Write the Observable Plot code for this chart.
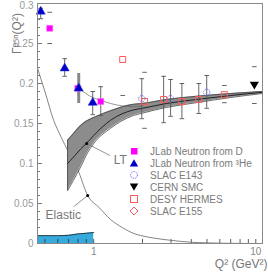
<!DOCTYPE html>
<html><head><meta charset="utf-8">
<script src="https://cdn.jsdelivr.net/npm/d3@7"></script>
<script src="https://cdn.jsdelivr.net/npm/@observablehq/plot@0.6"></script>
<style>
body{margin:0;background:#fff;font-family:"Liberation Sans",Arial,sans-serif;}
#wrap{position:relative;width:268px;height:273px;}
#legend{position:absolute;left:129px;top:145px;font-size:10px;color:#7a7a7a;}
.row{height:12px;display:flex;align-items:center;white-space:nowrap;}
.row svg{width:10px;height:10px;margin-right:11px;flex:none;}
</style></head><body><div id="wrap"></div>
<script>
// ---- data ----
const jlabD_q2 = [0.535, 0.797, 1.105];
const jlabD_val = [0.269, 0.194, 0.1775];
const jlabHe_q2 = [0.471, 0.662, 0.808, 0.986];
const jlabHe_val = [0.29, 0.219, 0.194, 0.176];
const e143_q2 = [1.98, 2.98, 4.98];
const e143_val = [0.181, 0.181, 0.189];
const hermes_q2 = [1.51, 2.06, 2.70, 3.5, 4.45, 6.4];
const hermes_val = [0.23, 0.1775, 0.18, 0.1775, 0.18, 0.186];
const smc_q2 = [9.8];
const smc_val = [0.199];

// visible error bars
const bar_q2 = [0.471, 0.662, 0.986, 1.105, 1.98, 2.70, 2.98, 3.5, 4.45, 4.98];
const bar_lo = [0.281, 0.209, 0.161, 0.16, 0.156, 0.151, 0.159, 0.156, 0.1625, 0.169];
const bar_hi = [0.294, 0.231, 0.19, 0.196, 0.206, 0.209, 0.205, 0.20, 0.2, 0.21];
// thick (systematic) bar
const thick_q2 = [0.808];
const thick_lo = [0.175];
const thick_hi = [0.2125];
// lone caps (bar lines not visible)
const cap_q2 = [0.535, 0.535, 1.51, 2.06, 2.06, 6.4, 6.4, 9.8, 9.8];
const cap_val = [0.289, 0.25, 0.185, 0.214, 0.144, 0.1975, 0.176, 0.221, 0.175];

// leading twist band
const band_q2 = [0.69, 0.75, 0.83, 0.92, 1.0, 1.27, 1.76, 2.0, 2.8, 4.3, 7, 11];
const band_top = [0.129, 0.1375, 0.1475, 0.154, 0.1575, 0.166, 0.174, 0.175, 0.18, 0.184, 0.1875, 0.19];
const band_bot = [0.066, 0.079, 0.0955, 0.114, 0.125, 0.144, 0.16, 0.163, 0.17, 0.176, 0.1825, 0.1875];
const band_mid = [0.1, 0.108, 0.118, 0.127, 0.135, 0.154, 0.167, 0.169, 0.175, 0.18, 0.185, 0.189];

// model line through JLab points
const model_q2 = [0.808, 0.986, 1.105, 1.27, 1.76, 2.0];
const model_val = [0.194, 0.1825, 0.179, 0.175, 0.171, 0.172];

// elastic contribution
const el_q2 = [0.45, 0.5, 0.566, 0.626, 0.7, 0.797, 0.918, 1.08, 1.27, 1.5, 1.77, 1.95, 2.4, 2.98, 3.97, 5, 6.3, 8, 11];
const el_val = [0.219, 0.19, 0.154, 0.134, 0.114, 0.0925, 0.06, 0.045, 0.03, 0.02, 0.0125, 0.01, 0.0065, 0.004, 0.0016, 0.0008, 0.0003, 0.0001, 0];

// cyan region
const cy_q2 = [0.45, 0.6, 0.7, 0.8, 0.9, 1.0];
const cy_val = [0.0098, 0.0098, 0.0102, 0.012, 0.0128, 0.0137];

// annotations
const ann_text = ["LT", "Elastic"];
const ann_q2 = [1.33, 0.505];
const ann_val = [0.104, 0.035];
const ptr = [{q1: 0.905, v1: 0.125, q2: 1.26, v2: 0.11}, {q1: 0.918, v1: 0.06, q2: 0.752, v2: 0.046}];

// ticks
const yTicks = [0, 0.05, 0.1, 0.15, 0.2, 0.25];
const yTopTick = [0.3];
const yMinor = d3.range(1, 30).map(i => i / 100);
const xTicks = [1, 10];
const xMinor = [0.5, 0.6, 0.7, 0.8, 0.9, 1, 2, 3, 4, 5, 6, 7, 8, 9, 10];

// ---- build ----
const zip = (xs, ys) => xs.map((x, i) => ({x, y: ys[i]}));
const band = band_q2.map((q, i) => ({x: q, lo: band_bot[i], hi: band_top[i], mid: band_mid[i]}));
const bars = bar_q2.map((q, i) => ({x: q, lo: bar_lo[i], hi: bar_hi[i]}));
const thick = thick_q2.map((q, i) => ({x: q, lo: thick_lo[i], hi: thick_hi[i]}));
const caps = bars.flatMap(b => [{x: b.x, y: b.lo}, {x: b.x, y: b.hi}]).concat(zip(cap_q2, cap_val));
const dash = {draw(ctx, size) { const r = Math.sqrt(size / Math.PI); ctx.moveTo(-r, 0); ctx.lineTo(r, 0); }};
const yMajorSet = new Set(yTicks.concat(yTopTick).map(d => d.toFixed(2)));

const plot = Plot.plot({
  width: 268, height: 273,
  marginLeft: 37, marginRight: 6, marginTop: 3, marginBottom: 30,
  style: {fontFamily: "Liberation Sans, Arial, sans-serif", background: "white"},
  x: {type: "log", domain: [0.45, 11]},
  y: {domain: [0, 0.3]},
  marks: [
    Plot.areaY(zip(cy_q2, cy_val), {x: "x", y: "y", fill: "#36aadc"}),
    Plot.lineY(zip(cy_q2, cy_val), {x: "x", y: "y", stroke: "#222", strokeWidth: 0.8}),
    Plot.ruleX(xMinor, {insetTop: 236, stroke: "#333", strokeWidth: 0.8}),
    Plot.ruleY(yMinor.filter(d => !yMajorSet.has(d.toFixed(2))), {insetRight: 222, stroke: "#555", strokeWidth: 0.8}),
    Plot.ruleY(yTicks, {insetRight: 220, stroke: "#555", strokeWidth: 0.8}),
    Plot.lineY(zip(el_q2, el_val), {x: "x", y: "y", stroke: "#666", strokeWidth: 0.8, curve: "monotone-x"}),
    Plot.areaY(band, {x: "x", y1: "lo", y2: "hi", fill: "#8c8c8c", curve: "monotone-x"}),
    Plot.lineY(band, {x: "x", y: "hi", stroke: "#444", strokeWidth: 0.8, curve: "monotone-x"}),
    Plot.lineY(band, {x: "x", y: "lo", stroke: "#444", strokeWidth: 0.8, curve: "monotone-x"}),
    Plot.lineY(band, {x: "x", y: "mid", stroke: "#222", strokeWidth: 1, curve: "monotone-x"}),
    Plot.ruleX(band.slice(0, 1), {x: "x", y1: "lo", y2: "hi", stroke: "#444", strokeWidth: 0.8}),
    Plot.lineY(zip(model_q2, model_val), {x: "x", y: "y", stroke: "#666", strokeWidth: 0.7, curve: "monotone-x"}),
    Plot.ruleX(thick, {x: "x", y1: "lo", y2: "hi", stroke: "#888", strokeWidth: 3}),
    Plot.ruleX(bars, {x: "x", y1: "lo", y2: "hi", stroke: "#555", strokeWidth: 0.9}),
    Plot.dot(caps, {x: "x", y: "y", symbol: dash, r: 2.3, stroke: "#555", strokeWidth: 0.9, fill: "none"}),
    Plot.dot(zip(e143_q2, e143_val), {x: "x", y: "y", symbol: "circle", r: 3.2, stroke: "#6a6aff", strokeWidth: 0.9, strokeDasharray: "1.5,1", fill: "none"}),
    Plot.dot(zip(hermes_q2, hermes_val), {x: "x", y: "y", symbol: "square", r: 3.4, stroke: "#ff5a5a", strokeWidth: 1, fill: "none"}),
    Plot.dot(zip(jlabD_q2, jlabD_val), {x: "x", y: "y", symbol: "square", r: 3.4, fill: "#ff00ff", stroke: "#ff66ff", strokeWidth: 0.5}),
    Plot.dot(zip(jlabHe_q2, jlabHe_val), {x: "x", y: "y", symbol: "triangle", r: 3.4, fill: "#0000c8", stroke: "#3333dd", strokeWidth: 0.5}),
    Plot.dot(zip(smc_q2, smc_val), {x: "x", y: "y", symbol: "triangle", rotate: 180, r: 3.4, fill: "#000"}),
    Plot.link(ptr, {x1: "q1", y1: "v1", x2: "q2", y2: "v2", stroke: "#777", strokeWidth: 0.8}),
    Plot.dot(ptr, {x: "q1", y: "v1", r: 1.5, fill: "#000"}),
    Plot.text(ann_text, {x: (d, i) => ann_q2[i], y: (d, i) => ann_val[i], text: d => d, textAnchor: "start", fontSize: 12, fill: "#777"}),
    Plot.frame({stroke: "#888"}),
    Plot.axisY({ticks: yTicks, tickSize: 0, tickPadding: 4, tickFormat: d => String(d), fontSize: 10, color: "#999", label: null}),
    Plot.axisY({ticks: yTopTick, tickSize: 0, tickPadding: 4, tickFormat: d => String(d), fontSize: 10, color: "#999", label: null, dy: 2.5}),
    Plot.axisX({ticks: xTicks, tickSize: 0, tickPadding: 4, tickFormat: d => String(d), fontSize: 10, color: "#888", label: null}),
    Plot.text(["Γᵖ⁻ⁿ(Q²)"], {frameAnchor: "top-left", rotate: -90, dx: -25, dy: 30, text: d => d, textAnchor: "middle", fontSize: 12, fill: "#777"}),
    Plot.text(["Q² (GeV²)"], {frameAnchor: "bottom-right", dx: 5, dy: 24, text: d => d, textAnchor: "end", fontSize: 12, fill: "#777"})
  ]
});
const wrap = document.getElementById("wrap");
wrap.appendChild(plot);

// legend
const legendItems = [
  {label: "JLab Neutron from D", svg: '<rect x="2" y="2" width="6.5" height="6.5" fill="#ff00ff"/>'},
  {label: "JLab Neutron from ³He", svg: '<polygon points="5,1.2 9.2,8.6 0.8,8.6" fill="#0000c8"/>'},
  {label: "SLAC E143", svg: '<circle cx="5" cy="5" r="3.4" fill="none" stroke="#6a6aff" stroke-dasharray="1.5,1"/>'},
  {label: "CERN SMC", svg: '<polygon points="0.8,1.4 9.2,1.4 5,8.8" fill="#000"/>'},
  {label: "DESY HERMES", svg: '<rect x="1.5" y="1.5" width="7" height="7" fill="none" stroke="#ff5a5a"/>'},
  {label: "SLAC E155", svg: '<polygon points="5,1 9,5 5,9 1,5" fill="none" stroke="#ff5a5a"/>'}
];
const leg = document.createElement("div");
leg.id = "legend";
leg.innerHTML = legendItems.map(d => `<div class="row"><svg viewBox="0 0 10 10">${d.svg}</svg><span>${d.label}</span></div>`).join("");
wrap.appendChild(leg);
</script></body></html>
